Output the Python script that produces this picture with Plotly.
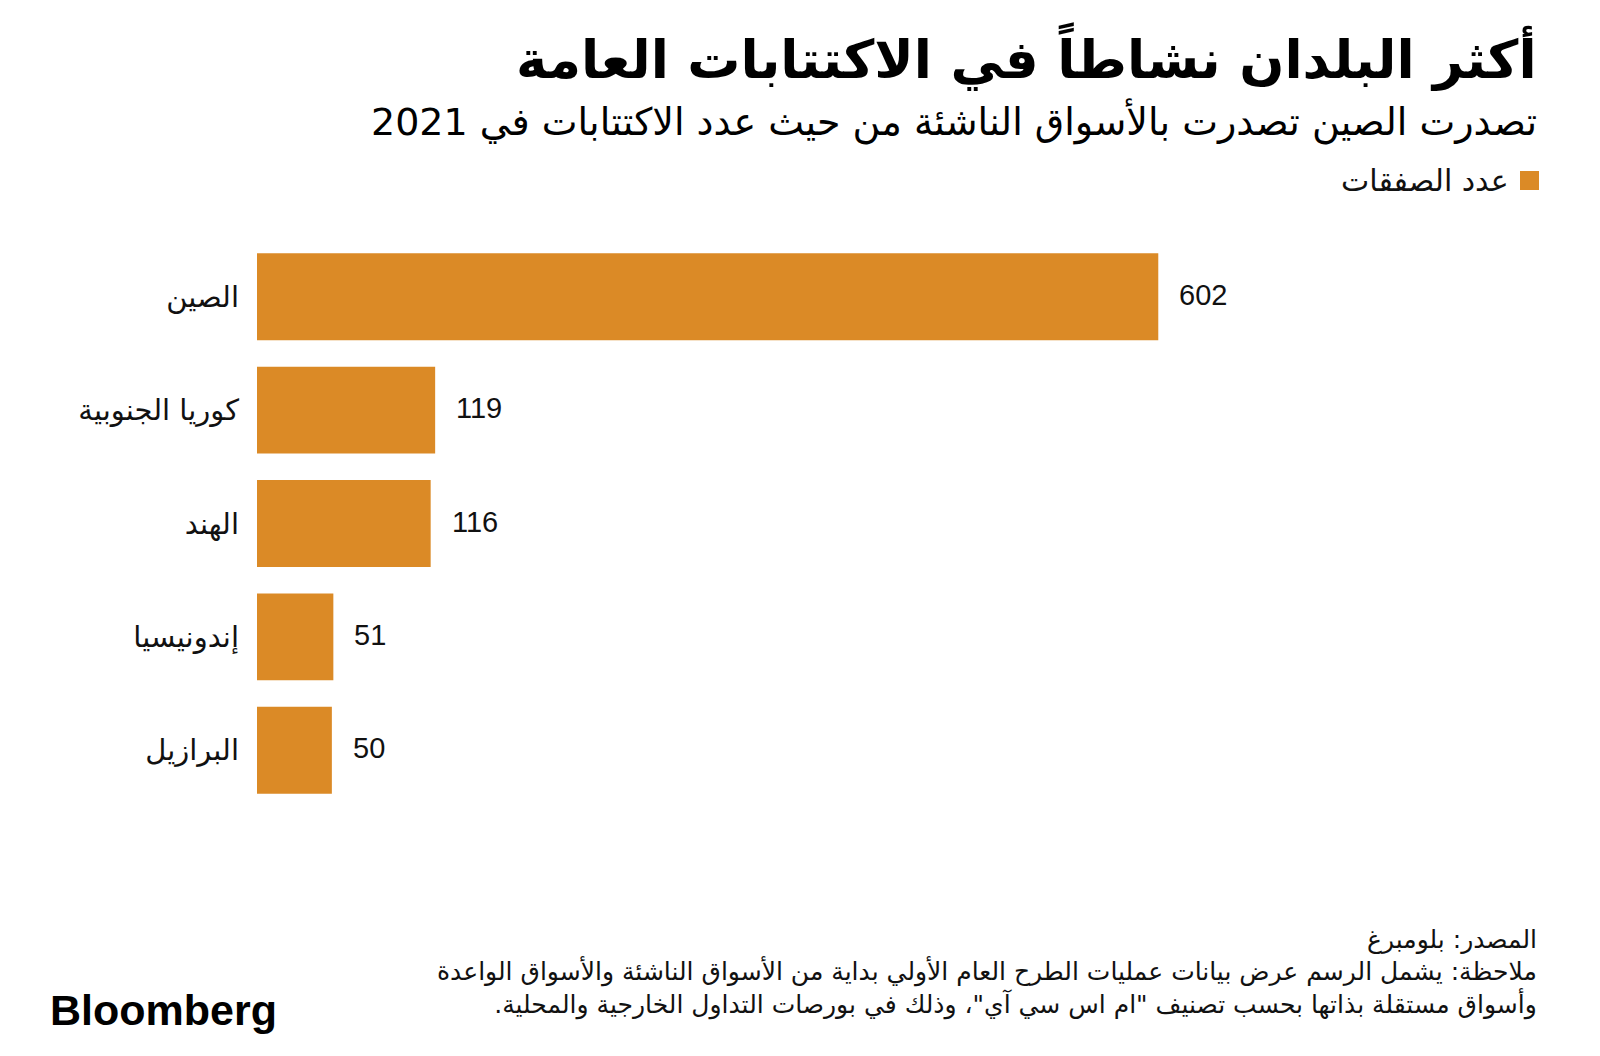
import plotly.graph_objects as go

categories = ["الصين", "كوريا الجنوبية", "الهند", "إندونيسيا", "البرازيل"]
values = [602, 119, 116, 51, 50]
value_labels = ["602", "119", "116", "51", "50"]
series_name = "عدد الصفقات"

title = "أكثر البلدان نشاطاً في الاكتتابات العامة"
subtitle = "تصدرت الصين تصدرت بالأسواق الناشئة من حيث عدد الاكتتابات في 2021"
source = "المصدر: بلومبرغ"
note_lines = [
    "ملاحظة: يشمل الرسم عرض بيانات عمليات الطرح العام الأولي بداية من الأسواق الناشئة والأسواق الواعدة",
    "وأسواق مستقلة بذاتها بحسب تصنيف \"ام اس سي آي\"، وذلك في بورصات التداول الخارجية والمحلية.",
]

RLM = "\u200f"
BAR = "#DB8A26"
AR_FONT = "DejaVu Sans"
NUM_FONT = "Liberation Sans Narrow, Liberation Sans, DejaVu Sans"

# screen layout (page has an 8px body margin)
OFF = 8
PX0, PX1, PY0, PY1 = 257, 1305, 240, 807  # plot area in screen pixels
W, H = 1600 - OFF, 1056 - OFF


def px(X):
    return (X - PX0) / (PX1 - PX0)


def py(Y):
    return (PY1 - Y) / (PY1 - PY0)


fig = go.Figure()
fig.add_trace(go.Bar(
    x=values, y=categories, orientation="h",
    marker=dict(color=BAR, line=dict(width=0)),
    name=series_name, showlegend=False, hoverinfo="x+y",
))

for v, lab, c in zip(values, value_labels, categories):
    fig.add_annotation(x=v, y=c, xref="x", yref="y", text=lab, showarrow=False,
                       xanchor="left", yanchor="middle", xshift=19, yshift=2,
                       font=dict(family=NUM_FONT, size=29, color="#111"))

fig.add_annotation(xref="paper", yref="paper", x=px(1539), y=py(57), text=RLM + title + RLM,
                   showarrow=False, xanchor="right", yanchor="middle",
                   font=dict(family=AR_FONT, size=53, color="#000", weight="bold"))
fig.add_annotation(xref="paper", yref="paper", x=px(1539), y=py(122), text=RLM + subtitle + RLM,
                   showarrow=False, xanchor="right", yanchor="middle",
                   font=dict(family=AR_FONT, size=38, color="#000"))
fig.add_annotation(xref="paper", yref="paper", x=px(1511), y=py(180), text=RLM + series_name + RLM,
                   showarrow=False, xanchor="right", yanchor="middle",
                   font=dict(family=AR_FONT, size=30, color="#111"))
fig.add_shape(type="rect", xref="paper", yref="paper", x0=px(1520), x1=px(1539), y0=py(190), y1=py(171),
              fillcolor=BAR, line=dict(width=0))

fig.add_annotation(xref="paper", yref="paper", x=px(1539), y=py(939), text=RLM + source + RLM,
                   showarrow=False, xanchor="right", yanchor="middle",
                   font=dict(family=AR_FONT, size=25, color="#111"))
fig.add_annotation(xref="paper", yref="paper", x=px(1539), y=py(987),
                   text="<br>".join(RLM + l + RLM for l in note_lines),
                   showarrow=False, xanchor="right", yanchor="middle", align="right",
                   font=dict(family=AR_FONT, size=25, color="#111"))
fig.add_annotation(xref="paper", yref="paper", x=px(48), y=py(1010), text="Bloomberg",
                   showarrow=False, xanchor="left", yanchor="middle",
                   font=dict(family="Liberation Sans, Arial", size=43, color="#000", weight="bold"))

fig.update_layout(
    width=W, height=H,
    margin=dict(l=PX0 - OFF, r=W - (PX1 - OFF), t=PY0 - OFF, b=H - (PY1 - OFF)),
    paper_bgcolor="white", plot_bgcolor="white",
    bargap=0.234,
    xaxis=dict(range=[0, 700], visible=False, showgrid=False, zeroline=False),
    yaxis=dict(autorange="reversed", showgrid=False, zeroline=False, showline=False,
               ticks="", ticklabelstandoff=17, automargin=False,
               tickfont=dict(family=AR_FONT, size=29, color="#111")),
    showlegend=False,
)

fig.write_html("out.html")
